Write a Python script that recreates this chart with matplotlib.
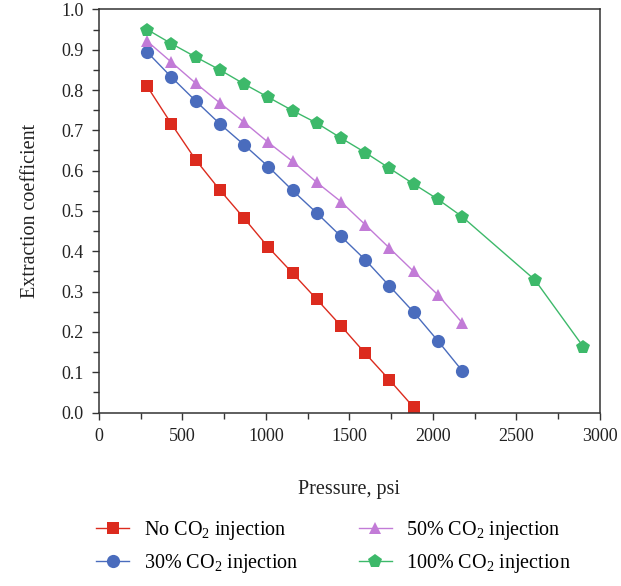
import numpy as np
import matplotlib
matplotlib.use("Agg")
import matplotlib.pyplot as plt
from matplotlib.ticker import MultipleLocator

plt.rcParams["font.family"] = ["Liberation Serif", "DejaVu Serif"]
plt.rcParams["mathtext.default"] = "regular"

# pressure, psi
pressure = [290, 435, 580, 725, 870, 1015, 1160, 1305, 1450, 1595, 1740, 1885, 2030, 2175, 2611, 2901]

no_co2 = [0.809, 0.716, 0.627, 0.552, 0.482, 0.410, 0.346, 0.281, 0.215, 0.147, 0.081, 0.013]
co2_30 = [0.894, 0.832, 0.773, 0.716, 0.664, 0.610, 0.551, 0.495, 0.437, 0.379, 0.314, 0.249, 0.178, 0.104]
co2_50 = [0.921, 0.869, 0.817, 0.768, 0.720, 0.670, 0.623, 0.571, 0.523, 0.466, 0.408, 0.350, 0.292, 0.223]
co2_100 = [0.950, 0.915, 0.882, 0.850, 0.815, 0.782, 0.749, 0.718, 0.681, 0.645, 0.606,
           0.567, 0.529, 0.486, 0.329, 0.163]

series = [
    ("No CO$_2$ injection", no_co2, "#DC2B1E", "s", 8.5),
    ("30% CO$_2$ injection", co2_30, "#4A6CBD", "o", 9.5),
    ("50% CO$_2$ injection", co2_50, "#C27BD7", "^", 9.0),
    ("100% CO$_2$ injection", co2_100, "#3DB96A", "p", 10.0),
]

fig = plt.figure(figsize=(6.21, 5.86), dpi=100)
ax = fig.add_axes([0.159, 0.296, 0.807, 0.688])

handles = []
for label, vals, col, mk, ms in series:
    x = pressure[:len(vals)]
    h, = ax.plot(x, vals, color=col, lw=1.0, marker=mk, markersize=ms,
                 markeredgewidth=0, label=label)
    handles.append(h)

ax.set_xlim(0, 3000)
ax.set_ylim(0, 1.0)
ax.xaxis.set_major_locator(MultipleLocator(500))
ax.xaxis.set_minor_locator(MultipleLocator(250))
ax.yaxis.set_major_locator(MultipleLocator(0.1))
ax.yaxis.set_minor_locator(MultipleLocator(0.05))
ax.yaxis.set_major_formatter(plt.FormatStrFormatter("%.1f"))

for s in ax.spines.values():
    s.set_linewidth(1.1)
    s.set_color("#333333")
ax.tick_params(which="major", direction="out", length=5, width=1.0, color="#333333",
               labelsize=13, labelcolor="#222222", pad=6)
ax.tick_params(which="minor", direction="out", length=4, width=1.0, color="#333333")

ax.set_xlabel("Pressure, psi", fontsize=14.5, color="#222222", labelpad=25)
ax.set_ylabel("Extraction coefficient", fontsize=14.5, color="#222222", labelpad=15)

fig.legend(handles=handles, loc="center", bbox_to_anchor=(0.537, 0.066),
           ncol=2, frameon=False, fontsize=14.5, handlelength=1.65,
           columnspacing=3.0, labelspacing=0.5, handletextpad=0.7)

fig.savefig("out.png", dpi=100)
